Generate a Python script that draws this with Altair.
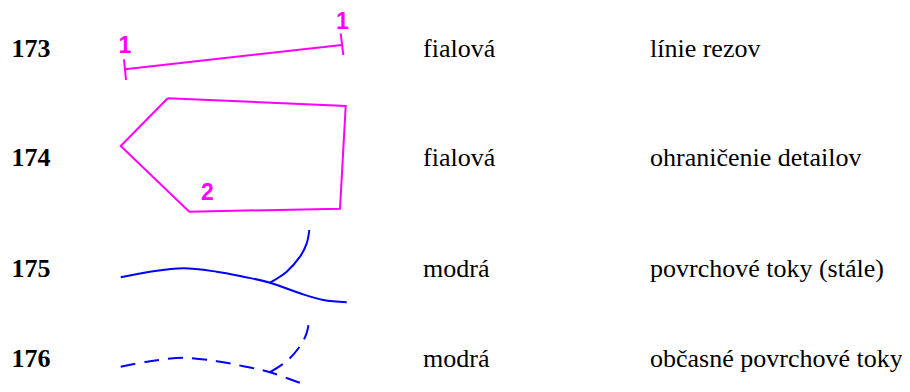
import altair as alt
import pandas as pd

# ---- data ----
codes = ["173", "174", "175", "176"]
colors_txt = ["fialová", "fialová", "modrá", "modrá"]
descriptions = ["línie rezov", "ohraničenie detailov", "povrchové toky (stále)", "občasné povrchové toky"]
row_baseline = [56.5, 166, 276.5, 366.5]

# section line (173)
cut_x = [125, 341.7]
cut_y = [69.3, 45.0]
tick_a_x = [124.0, 126.0]
tick_a_y = [59.3, 80.0]
tick_b_x = [340.7, 343.3]
tick_b_y = [33.3, 55.0]

# detail boundary polygon (174)
poly_x = [167.7, 345.7, 340.0, 189.3, 120.7, 167.7]
poly_y = [98.3, 106.0, 208.7, 211.7, 146.0, 98.3]

# small magenta labels
lab_text = ["1", "1", "2"]
lab_x = [125.0, 342.3, 207.3]
lab_y = [53.3, 29.3, 200.0]

# stream curve (175); 176 is the same shape lower
main_x = [120.7, 150.0, 183.3, 216.7, 243.3, 270.0, 300.0, 323.3, 346.7]
main_y = [277.3, 271.7, 268.3, 271.7, 276.7, 282.7, 293.3, 300.0, 302.3]
branch_x = [270.0, 286.7, 300.0, 306.7, 309.3]
branch_y = [282.7, 271.7, 256.7, 243.3, 230.0]
shift_176 = 89.5

# ---- tables ----
codes_df = pd.DataFrame(dict(x=[11.5] * 4, y=row_baseline, t=codes))
col_df = pd.DataFrame(dict(x=[423.0] * 4, y=row_baseline, t=colors_txt))
desc_df = pd.DataFrame(dict(x=[650.0] * 4, y=row_baseline, t=descriptions))

def add(rows_, gid, xs, ys):
    for k, (a, b) in enumerate(zip(xs, ys)):
        rows_.append(dict(g=gid, o=k, x=a, y=b))

mag_rows = []
add(mag_rows, "cut", cut_x, cut_y)
add(mag_rows, "ta", tick_a_x, tick_a_y)
add(mag_rows, "tb", tick_b_x, tick_b_y)
add(mag_rows, "poly", poly_x, poly_y)
mag_df = pd.DataFrame(mag_rows)

solid_rows = []
add(solid_rows, "main", main_x, main_y)
add(solid_rows, "branch", branch_x, branch_y)
solid_df = pd.DataFrame(solid_rows)

dash_rows = []
add(dash_rows, "main", main_x, [v + shift_176 for v in main_y])
add(dash_rows, "branch", branch_x, [v + shift_176 for v in branch_y])
dash_df = pd.DataFrame(dash_rows)

lab_df = pd.DataFrame(dict(x=lab_x, y=lab_y, t=lab_text))

W, H = 894, 376
xs = alt.Scale(domain=[8, 8 + W], nice=False, zero=False)
ys = alt.Scale(domain=[8, 8 + H], nice=False, zero=False, reverse=True)
X = lambda: alt.X("x:Q", scale=xs, axis=None)
Y = lambda: alt.Y("y:Q", scale=ys, axis=None)

codes_layer = alt.Chart(codes_df).mark_text(
    align="left", baseline="alphabetic", font="Times New Roman", fontSize=26,
    fontWeight="bold").encode(x=X(), y=Y(), text="t:N")
col_layer = alt.Chart(col_df).mark_text(
    align="left", baseline="alphabetic", font="Times New Roman", fontSize=26,
    fontWeight="normal").encode(x=X(), y=Y(), text="t:N")
desc_layer = alt.Chart(desc_df).mark_text(
    align="left", baseline="alphabetic", font="Times New Roman", fontSize=26,
    fontWeight="normal").encode(x=X(), y=Y(), text="t:N")

mag_layer = alt.Chart(mag_df).mark_line(color="#FF00FF", strokeWidth=2, strokeJoin="miter").encode(
    x=X(), y=Y(), detail="g:N", order="o:Q")

lab_layer = alt.Chart(lab_df).mark_text(
    align="center", baseline="alphabetic", font="Arial", fontSize=23,
    fontWeight="bold", color="#FF00FF").encode(x=X(), y=Y(), text="t:N")

solid_layer = alt.Chart(solid_df).mark_line(color="#0000FF", strokeWidth=2, interpolate="cardinal").encode(
    x=X(), y=Y(), detail="g:N", order="o:Q")
dash_layer = alt.Chart(dash_df).mark_line(color="#0000FF", strokeWidth=2, interpolate="cardinal",
                                          strokeDash=[15, 9], clip=True).encode(
    x=X(), y=Y(), detail="g:N", order="o:Q")

chart = alt.layer(codes_layer, col_layer, desc_layer, mag_layer, lab_layer, solid_layer, dash_layer).properties(
    width=W, height=H, padding=0, autosize=alt.AutoSizeParams(type="none"), background="white"
).configure_view(strokeWidth=0)

chart.save("out.html", embed_options={"renderer": "svg", "actions": False})
